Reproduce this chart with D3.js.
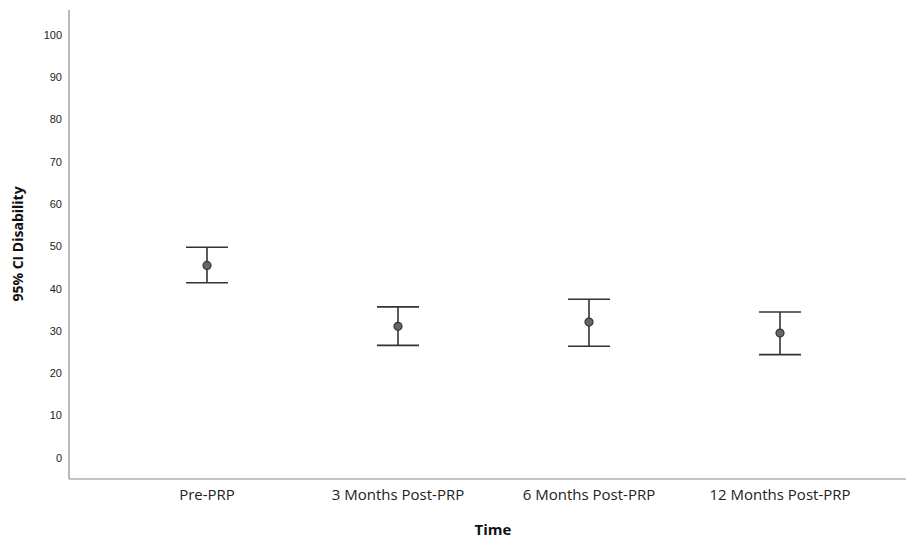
<!DOCTYPE html>
<html><head><meta charset="utf-8">
<script src="https://cdn.jsdelivr.net/npm/d3@7/dist/d3.min.js"></script>
<style>body{margin:0;background:#fff}</style>
</head><body>
<svg id="c" width="906" height="538"></svg>
<script>
const categories = ["Pre-PRP", "3 Months Post-PRP", "6 Months Post-PRP", "12 Months Post-PRP"];
const means = [45.5, 31.1, 32.1, 29.5];
const lower = [41.4, 26.6, 26.4, 24.4];
const upper = [49.8, 35.7, 37.5, 34.5];
const yTicks = [0, 10, 20, 30, 40, 50, 60, 70, 80, 90, 100];

(function () {
const svg = d3.select("#c");
const mLeft = 69, mRight = 906, mTop = 10, mBottom = 479;
const y = d3.scaleLinear().domain([-5, 105.9]).range([mBottom, mTop]);
const x = d3.scalePoint().domain(categories).range([207, 780]);

// axes lines
svg.append("line").attr("x1", mLeft).attr("x2", mLeft).attr("y1", mTop).attr("y2", mBottom)
  .attr("stroke", "#8a8a8a").attr("stroke-width", 1.2);
svg.append("line").attr("x1", mLeft).attr("x2", mRight).attr("y1", mBottom).attr("y2", mBottom)
  .attr("stroke", "#8a8a8a").attr("stroke-width", 1.2);

// y tick labels
svg.append("g").selectAll("text").data(yTicks).join("text")
  .attr("x", 62).attr("y", d => y(d)).attr("dy", "0.35em")
  .attr("text-anchor", "end")
  .attr("font-family", "Liberation Sans, Arial, sans-serif").attr("font-size", 11)
  .attr("fill", "#222").text(d => d);

// x labels
svg.append("g").selectAll("text").data(categories).join("text")
  .attr("x", d => x(d)).attr("y", 500)
  .attr("text-anchor", "middle")
  .attr("font-family", "Open Sans, sans-serif").attr("font-size", 15)
  .attr("fill", "#222").text(d => d);

// axis titles
svg.append("text").attr("x", 493).attr("y", 535).attr("text-anchor", "middle")
  .attr("font-family", "Open Sans, sans-serif").attr("font-weight", "bold").attr("font-size", 15)
  .attr("fill", "#111").text("Time");
svg.append("text").attr("transform", "translate(23,244) rotate(-90)").attr("text-anchor", "middle")
  .attr("font-family", "Open Sans, sans-serif").attr("font-weight", "bold").attr("font-size", 14)
  .attr("fill", "#111").text("95% CI Disability");

// error bars
const g = svg.append("g").attr("stroke", "#333").attr("stroke-width", 1.6);
categories.forEach((c, i) => {
  const cx = x(c);
  g.append("line").attr("x1", cx).attr("x2", cx).attr("y1", y(upper[i])).attr("y2", y(lower[i]));
  g.append("line").attr("x1", cx - 21).attr("x2", cx + 21).attr("y1", y(upper[i])).attr("y2", y(upper[i]));
  g.append("line").attr("x1", cx - 21).attr("x2", cx + 21).attr("y1", y(lower[i])).attr("y2", y(lower[i]));
  svg.append("circle").attr("cx", cx).attr("cy", y(means[i])).attr("r", 4)
    .attr("fill", "#666").attr("stroke", "#333").attr("stroke-width", 1.2);
});
})();
</script>
</body></html>
